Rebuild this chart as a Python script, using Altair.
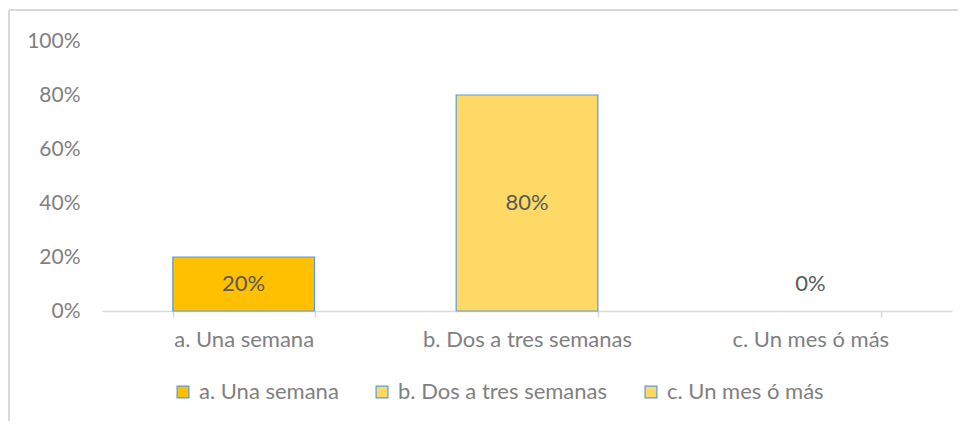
import altair as alt
import pandas as pd

categories = ["a. Una semana", "b. Dos a tres semanas", "c. Un mes ó más"]
values = [0.20, 0.80, 0.00]
colors = ["#FFC000", "#FFD966", "#FFD966"]
y_ticks = [0, 0.2, 0.4, 0.6, 0.8, 1.0]

df = pd.DataFrame({"cat": categories, "v": values})

FONT = "Lato"
FS = 22

x_enc = alt.X("cat:N", sort=categories, title=None,
              scale=alt.Scale(paddingInner=0.5, paddingOuter=0.25),
              axis=alt.Axis(labelAngle=0, labelColor="#808080", labelFontSize=FS,
                            labelFont=FONT, labelPadding=12, labelLimit=0,
                            domainColor="#d9d9d9", domainWidth=1.5,
                            tickColor="#d9d9d9", tickWidth=1.5,
                            tickSize=6, tickBand="extent"))

bars = alt.Chart(df).mark_bar(strokeWidth=1.2).encode(
    x=x_enc,
    y=alt.Y("v:Q", title=None, scale=alt.Scale(domain=[0, 1]),
            axis=alt.Axis(values=y_ticks, format=".0%", grid=False, domain=False,
                          ticks=False, labelColor="#808080", labelFontSize=21,
                          labelFont=FONT, labelPadding=22)),
    stroke=alt.condition("datum.v > 0", alt.value("#5B9BD5"), alt.value("transparent")),
    color=alt.Color("cat:N", sort=categories,
                    scale=alt.Scale(domain=categories, range=colors),
                    legend=alt.Legend(title=None, orient="none", direction="horizontal",
                                      legendX=70, legendY=340, symbolType="square",
                                      symbolSize=140, symbolStrokeColor="#5B9BD5",
                                      symbolStrokeWidth=1.2, symbolOpacity=1,
                                      labelFontSize=FS, labelFont=FONT, labelLimit=0,
                                      labelColor="#808080", columnPadding=32,
                                      labelOffset=5)),
)

labels = alt.Chart(df).transform_calculate(
    ly="max(datum.v / 2, 0.1)"
).mark_text(font=FONT, fontSize=FS, color="#595959", baseline="middle").encode(
    x=alt.X("cat:N", sort=categories),
    y=alt.Y("ly:Q"),
    text=alt.Text("v:Q", format=".0%"),
)

frame_top = alt.Chart(df).mark_rule(color="#d9d9d9", strokeWidth=2).encode(
    x=alt.value(-93), x2=alt.value(870), y=alt.value(-31))
frame_left = alt.Chart(df).mark_rule(color="#d9d9d9", strokeWidth=2).encode(
    x=alt.value(-93), y=alt.value(-31), y2=alt.value(420))

chart = alt.layer(frame_top, frame_left, bars, labels).properties(
    width=850, height=270,
    background="white",
    autosize=alt.AutoSizeParams(type="none"),
    padding={"left": 94, "top": 33, "right": 6, "bottom": 110},
).configure_view(stroke=None)

chart.save("out.html", embed_options={"renderer": "svg", "actions": False})
